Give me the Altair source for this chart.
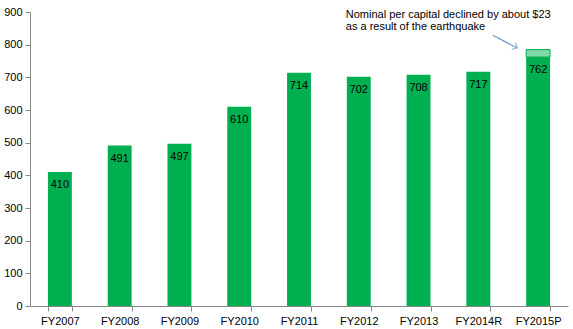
import altair as alt
import pandas as pd

years = ["FY2007", "FY2008", "FY2009", "FY2010", "FY2011", "FY2012", "FY2013", "FY2014R", "FY2015P"]
values = [410, 491, 497, 610, 714, 702, 708, 717, 762]
decline_year = "FY2015P"
decline_amount = 23
note_text = "Nominal  per capital declined by about  $23\nas a result of the earthquake"
y_ticks = [0, 100, 200, 300, 400, 500, 600, 700, 800, 900]

df = pd.DataFrame({"year": years, "value": values})
hatch_df = pd.DataFrame({"year": [decline_year],
                         "value": [values[-1]],
                         "top": [values[-1] + decline_amount]})
note_df = pd.DataFrame({"year": ["FY2012"], "value": [891], "text": [note_text]})
arrow_df = pd.DataFrame({"x1": ["FY2014R"], "x2": ["FY2015P"], "value": [829], "y2": [790]})

FONT = "Liberation Sans"
GREEN = "#00B050"
AXIS = "#868686"

xscale = alt.Scale(domain=years, paddingInner=0.6, paddingOuter=0.3)
yscale = alt.Scale(domain=[0, 900], nice=False)

xaxis = alt.Axis(title=None, labelAngle=0, tickBand="extent", domainColor=AXIS,
                 tickColor=AXIS, tickSize=5, labelFont=FONT, labelFontSize=11,
                 labelColor="#000000", labelPadding=4, grid=False)
yaxis = alt.Axis(title=None, values=y_ticks, domainColor=AXIS, labelOverlap=False,
                 tickColor=AXIS, tickSize=5, labelFont=FONT, labelFontSize=11,
                 labelColor="#000000", labelPadding=3, grid=False)


def X(field):
    return alt.X(field, type="nominal", scale=xscale, sort=years, axis=xaxis)


def Y(field):
    return alt.Y(field, type="quantitative", scale=yscale, axis=yaxis)


bars = alt.Chart(df).mark_bar(color=GREEN).encode(x=X("year"), y=Y("value"))

labels = alt.Chart(df).mark_text(font=FONT, fontSize=11, color="#000000",
                                 baseline="middle", dy=13).encode(
    x=X("year"), y=Y("value"), text="value:Q")

hatch = alt.Chart(hatch_df).mark_bar(color="#7fd8a6", stroke=GREEN, strokeWidth=1).encode(
    x=X("year"), y=Y("value"), y2="top:Q")

note = alt.Chart(note_df).mark_text(font=FONT, fontSize=11, color="#000000", align="left",
                                    baseline="middle", lineBreak="\n", lineHeight=12,
                                    xOffset=-13).encode(
    x=X("year"), y=Y("value"), text="text:N")

arrow_line = alt.Chart(arrow_df).mark_rule(color="#6f93c2", strokeWidth=1.2,
                                           xOffset=14.5, x2Offset=-21).encode(
    x=X("x1"), x2="x2:N", y=Y("value"), y2="y2:Q")

arrow_head = alt.Chart(arrow_df).mark_point(shape="M-1,1L0,0L1,1", size=60, angle=118,
                                            filled=False, color="#6f93c2", strokeWidth=1.2,
                                            xOffset=-21).encode(
    x=X("x2"), y=alt.Y("y2", type="quantitative", scale=yscale, axis=yaxis))

chart = alt.layer(bars, hatch, labels, note, arrow_line, arrow_head).properties(
    width=538, height=294,
    padding={"left": 30, "top": 12, "right": 5, "bottom": 23},
    autosize=alt.AutoSizeParams(type="none"),
    background="#ffffff",
).configure_view(stroke=None)

chart.save("out.html", embed_options={"renderer": "svg", "actions": False})
